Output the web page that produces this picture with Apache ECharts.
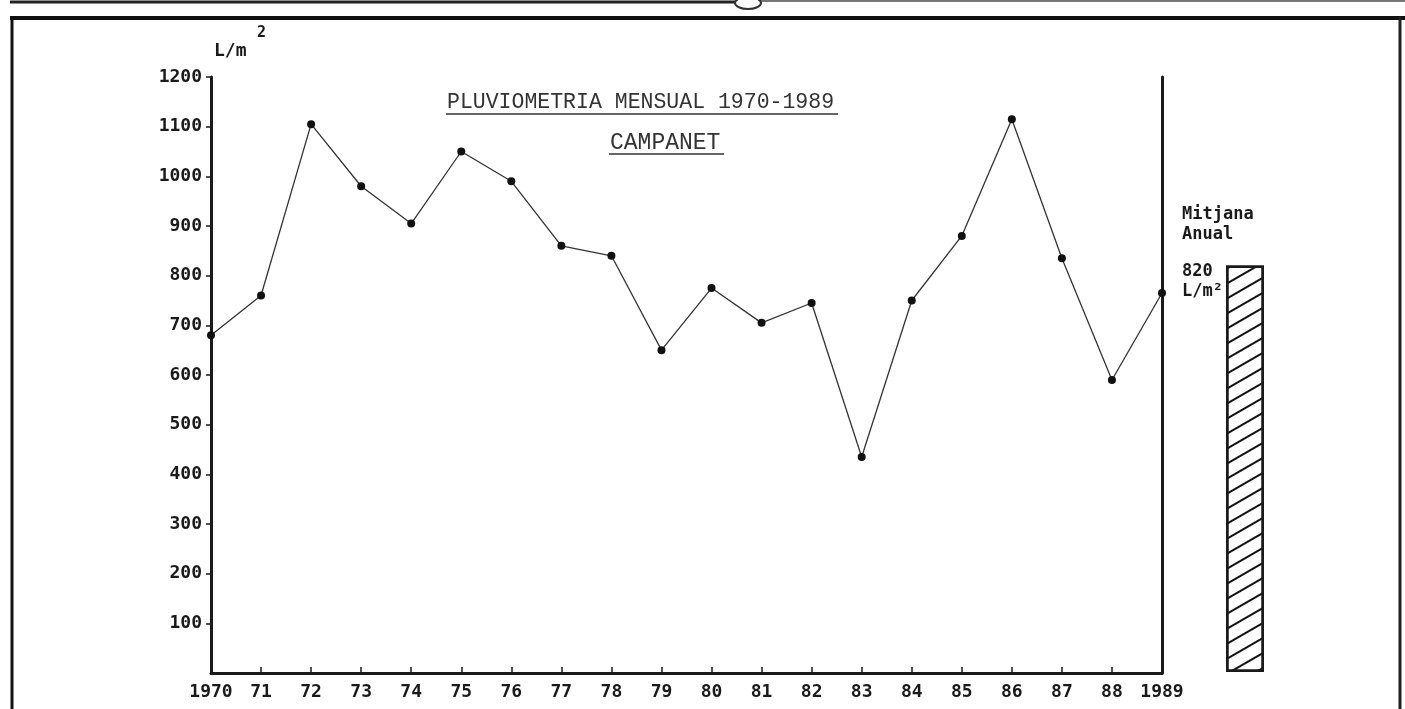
<!DOCTYPE html>
<html>
<head>
<meta charset="utf-8">
<script src="https://cdn.jsdelivr.net/npm/echarts@6/dist/echarts.min.js"></script>
<style>
html,body{margin:0;padding:0;background:#fff;}
#c{width:1405px;height:709px;}
</style>
</head>
<body>
<div id="c"></div>
<script>
// ---- data ----
const years = ['1970','71','72','73','74','75','76','77','78','79','80','81','82','83','84','85','86','87','88','1989'];
const rainfall = [680, 760, 1105, 980, 905, 1050, 990, 860, 840, 650, 775, 705, 745, 435, 750, 880, 1115, 835, 590, 765];
const yTicks = [100, 200, 300, 400, 500, 600, 700, 800, 900, 1000, 1100, 1200];
const meanLabel = ['Mitjana'];
const meanValue = [820];
const titleText = 'PLUVIOMETRIA MENSUAL 1970-1989';
const subtitleText = 'CAMPANET';

const chart = echarts.init(document.getElementById('c'), null, {renderer: 'canvas'});
const labelFont = 'DejaVu Sans Mono';
const ink = '#1a1a1a';

const option = {
  backgroundColor: '#fff',
  animation: false,
  grid: [
    {left: 211, right: 243, top: 77, bottom: 36},
    {left: 1226, width: 38, top: 77, bottom: 37}
  ],
  xAxis: [
    {
      type: 'category', gridIndex: 0, data: years, boundaryGap: false,
      axisLine: {lineStyle: {color: ink, width: 3}},
      axisTick: {inside: true, length: 6, lineStyle: {color: ink, width: 1.5},
        interval: function (i) { return i > 0 && i < years.length - 1; }},
      axisLabel: {color: ink, fontFamily: labelFont, fontSize: 18, fontWeight: 'bold', margin: 10, interval: 0}
    },
    {
      type: 'category', gridIndex: 1, data: meanLabel, show: false
    }
  ],
  yAxis: [
    {
      type: 'value', gridIndex: 0, min: 0, max: 1200, interval: 100,
      splitLine: {show: false},
      axisLine: {show: true, lineStyle: {color: ink, width: 3}},
      axisTick: {show: true, length: 5, customValues: yTicks, lineStyle: {color: ink, width: 1.5}},
      axisLabel: {color: ink, fontFamily: labelFont, fontSize: 18, fontWeight: 'bold', margin: 9,
        customValues: yTicks, formatter: function (v) { return String(v); }}
    },
    {
      type: 'value', gridIndex: 0, position: 'right', min: 0, max: 1200, interval: 100,
      splitLine: {show: false},
      axisLine: {show: true, lineStyle: {color: ink, width: 3}},
      axisTick: {show: false}, axisLabel: {show: false}
    },
    {
      type: 'value', gridIndex: 1, min: 0, max: 1200, show: false
    }
  ],
  series: [
    {
      type: 'line', xAxisIndex: 0, yAxisIndex: 0, data: rainfall,
      symbol: 'circle', symbolSize: 8,
      lineStyle: {color: '#333', width: 1.3},
      itemStyle: {color: '#111'}
    },
    {
      type: 'bar', xAxisIndex: 1, yAxisIndex: 2, data: meanValue, barWidth: '100%',
      itemStyle: {
        color: '#fff', borderColor: ink, borderWidth: 2.5,
        decal: {symbol: 'rect', dashArrayX: [1, 0], dashArrayY: [2, 11], rotation: -Math.PI / 6, color: '#111', symbolSize: 1}
      },
      label: {
        show: true, position: [-44, -4], color: ink, fontFamily: labelFont, fontSize: 17, fontWeight: 'bold',
        lineHeight: 20, align: 'left',
        formatter: function (p) { return p.value + '\nL/m²'; }
      }
    }
  ],
  graphic: [
    // frame
    {type: 'line', shape: {x1: 10, y1: 18, x2: 1405, y2: 18}, style: {stroke: '#111', lineWidth: 4}},
    {type: 'line', shape: {x1: 12, y1: 17, x2: 12, y2: 709}, style: {stroke: '#111', lineWidth: 3}},
    {type: 'line', shape: {x1: 1400, y1: 17, x2: 1400, y2: 709}, style: {stroke: '#222', lineWidth: 3}},
    {type: 'line', shape: {x1: 10, y1: 2, x2: 735, y2: 2}, style: {stroke: '#222', lineWidth: 3}},
    {type: 'line', shape: {x1: 760, y1: 1, x2: 1405, y2: 1}, style: {stroke: '#777', lineWidth: 2}},
    {type: 'ellipse', shape: {cx: 748, cy: 3, rx: 13, ry: 6}, style: {stroke: '#333', fill: 'none', lineWidth: 2}},
    // axis unit
    {type: 'text', left: 214, top: 42, style: {text: 'L/m', font: 'bold 18px "DejaVu Sans Mono"', fill: ink}},
    {type: 'text', left: 257, top: 26, style: {text: '2', font: 'bold 15px "DejaVu Sans Mono"', fill: ink}},
    // title
    {type: 'text', left: 447, top: 91, style: {text: titleText, font: '21.5px "Liberation Mono"', fill: '#333'}},
    {type: 'line', shape: {x1: 446, y1: 114, x2: 838, y2: 114}, style: {stroke: '#333', lineWidth: 1.5}},
    {type: 'text', left: 610, top: 131, style: {text: subtitleText, font: '23px "Liberation Mono"', fill: '#333'}},
    {type: 'line', shape: {x1: 609, y1: 154, x2: 724, y2: 154}, style: {stroke: '#333', lineWidth: 1.5}},
    // mean annotation
    {type: 'text', left: 1182, top: 205, style: {text: 'Mitjana\nAnual', font: 'bold 17px "DejaVu Sans Mono"', lineHeight: 20, fill: ink}}
  ]
};
chart.setOption(option);
</script>
</body>
</html>
